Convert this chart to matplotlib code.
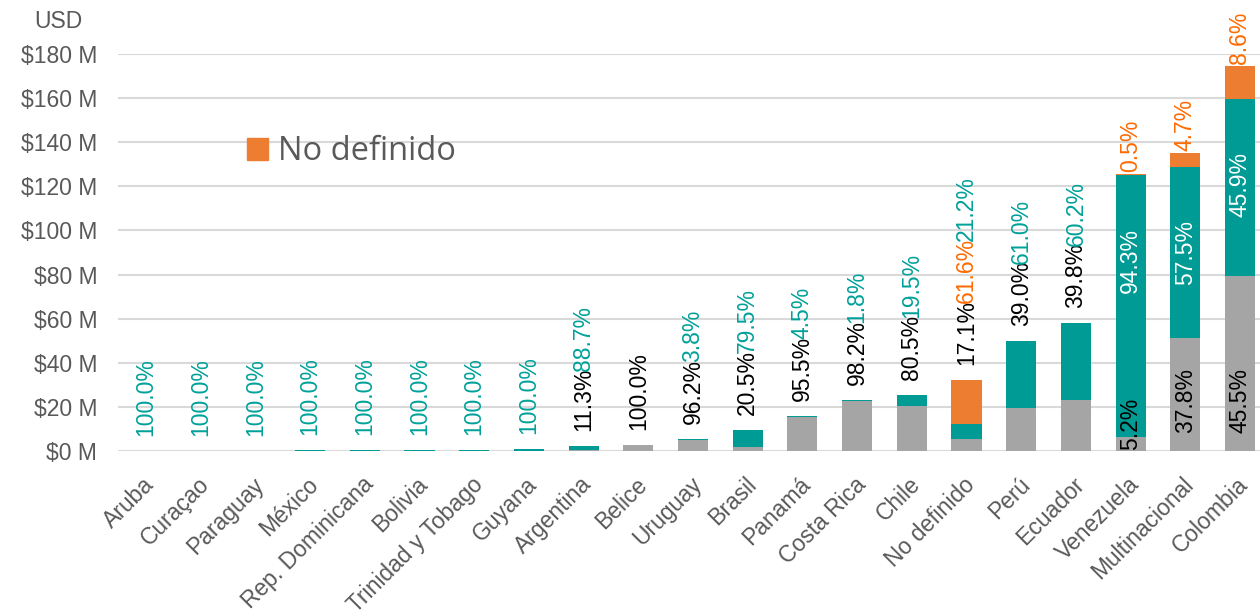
import numpy as np
import matplotlib.pyplot as plt
from matplotlib.patches import Patch
from matplotlib.transforms import ScaledTranslation

# Datos (millones USD) y participación por segmento (%)
paises = ['Aruba', 'Curaçao', 'Paraguay', 'México', 'Rep. Dominicana', 'Bolivia',
          'Trinidad y Tobago', 'Guyana', 'Argentina', 'Belice', 'Uruguay', 'Brasil',
          'Panamá', 'Costa Rica', 'Chile', 'No definido', 'Perú', 'Ecuador',
          'Venezuela', 'Multinacional', 'Colombia']
total_m = [0.02, 0.03, 0.06, 0.25, 0.35, 0.45, 0.6, 0.9, 2.1, 2.7, 5.4, 9.4,
           16.0, 23.3, 25.2, 32.2, 49.9, 58.0, 125.7, 135.0, 174.5]
pct_gris = [0, 0, 0, 0, 0, 0, 0, 0, 11.3, 100.0, 96.2, 20.5, 95.5, 98.2, 80.5,
            17.1, 39.0, 39.8, 5.2, 37.8, 45.5]
pct_verde = [100.0, 100.0, 100.0, 100.0, 100.0, 100.0, 100.0, 100.0, 88.7, 0, 3.8,
             79.5, 4.5, 1.8, 19.5, 21.2, 61.0, 60.2, 94.3, 57.5, 45.9]
pct_naranja = [0, 0, 0, 0, 0, 0, 0, 0, 0, 0, 0, 0, 0, 0, 0,
               61.6, 0, 0, 0.5, 4.7, 8.6]
yticks = [0, 20, 40, 60, 80, 100, 120, 140, 160, 180]

total = np.array(total_m)
gris = total * np.array(pct_gris) / 100
verde = total * np.array(pct_verde) / 100
naranja = total * np.array(pct_naranja) / 100

C_GRIS = '#A5A5A5'
C_VERDE = '#009B95'
C_NARANJA = '#ED7D31'
C_TXT = '#595959'
FS = 16.5
plt.rcParams['font.family'] = ['Liberation Sans', 'DejaVu Sans']

fig = plt.figure(figsize=(12.6, 6.12), dpi=100)
ax = fig.add_axes([118 / 1260, 161 / 612, 1142 / 1260, 397 / 612])
x = np.arange(len(paises))
w = 0.55

ax.bar(x, gris, w, color=C_GRIS, zorder=2)
ax.bar(x, verde, w, bottom=gris, color=C_VERDE, zorder=2)
ax.bar(x, naranja, w, bottom=gris + verde, color=C_NARANJA, zorder=2)

ax.set_xlim(-0.512, 20.366)
ax.set_ylim(0, 180)
ax.set_yticks(yticks, [f'${v} M' for v in yticks])
ax.grid(axis='y', color='#D9D9D9', lw=1.5, zorder=0)
ax.set_axisbelow(True)
for s in ax.spines.values():
    s.set_visible(False)
ax.tick_params(axis='y', length=0, pad=15, labelsize=FS, labelcolor=C_TXT)
ax.tick_params(axis='x', length=0, pad=0, labelsize=FS, labelcolor=C_TXT)
ax.set_xticks(x, paises, rotation=45, ha='right', va='center', rotation_mode='anchor')
off = ScaledTranslation(5 / 100, -30 / 100, fig.dpi_scale_trans)
for lab in ax.get_xticklabels():
    lab.set_transform(lab.get_transform() + off)

fig.text(34 / 1260, 1 - 21 / 612, 'USD', fontsize=16.5, color=C_TXT, va='center', ha='left')

# Etiquetas de datos
renderer = fig.canvas.get_renderer()
px = 72 / fig.dpi  # puntos por pixel


def largo(txt):
    t = ax.text(0, 0, txt, fontsize=FS, rotation=90)
    h = t.get_window_extent(renderer).height
    t.remove()
    return h * px


def etiqueta(i, y, txt, color, dy, va='bottom'):
    ax.annotate(txt, (x[i], y), xytext=(0, dy), textcoords='offset points',
                rotation=90, ha='center', va=va, fontsize=FS, color=color,
                annotation_clip=False, zorder=3)


for i in range(len(paises)):
    tope = total[i]
    if tope > 100:
        t_g = f'{pct_gris[i]:.1f}%'
        seg_px = gris[i] * 397 / 180
        etiqueta(i, 0, t_g, 'black', (18 if seg_px > 70 else 1) * px)
        etiqueta(i, gris[i] + verde[i], f'{pct_verde[i]:.1f}%', 'white', -53 * px, va='top')
        etiqueta(i, tope, f'{pct_naranja[i]:.1f}%', '#FF6A00', 2 * px)
    else:
        dy = 15 * px
        for p, col in ((pct_gris[i], 'black'), (pct_naranja[i], '#FF6A00'),
                       (pct_verde[i], '#00A19A')):
            if p > 0:
                txt = f'{p:.1f}%'
                etiqueta(i, tope, txt, col, dy)
                dy += largo(txt) - 3 * px

leg = ax.legend(handles=[Patch(color=C_NARANJA)], labels=['No definido'],
                loc='center left', bbox_to_anchor=(247 / 1260, 1 - 152 / 612),
                bbox_transform=fig.transFigure, frameon=False,
                prop={'family': 'Open Sans', 'size': 23.5},
                handlelength=0.64, handleheight=0.64, handletextpad=0.3,
                borderpad=0, borderaxespad=0)
for t in leg.get_texts():
    t.set_color(C_TXT)

fig.savefig('out.png', dpi=100)
